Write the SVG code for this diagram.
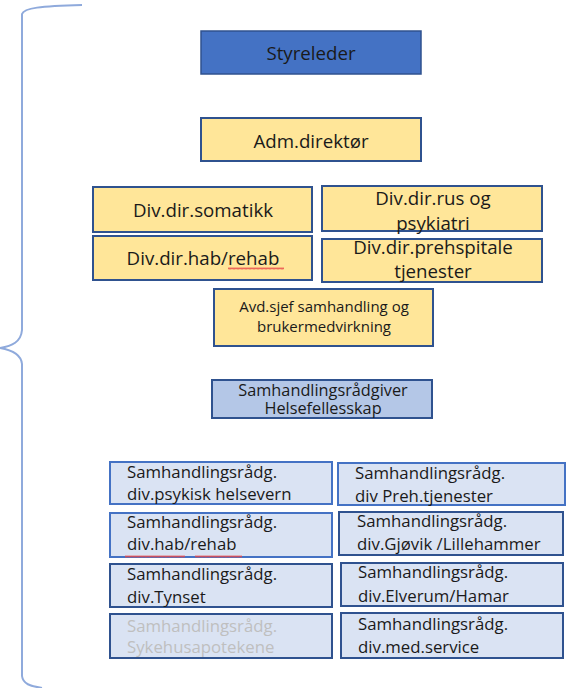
<svg xmlns="http://www.w3.org/2000/svg" width="573" height="688" viewBox="0 0 573 688">
<defs>
<pattern id="sq" x="0" y="0" width="4" height="3" patternUnits="userSpaceOnUse">
<path d="M0,2.5 L1,0.5 L2,2.5 L3,0.5 L4,2.5" fill="none" stroke="#E8484A" stroke-width="0.8"/>
</pattern>
</defs>
<style>
.y{fill:#FFE699;stroke:#2F528F;stroke-width:2}
.b{fill:#4472C4;stroke:#2F528F;stroke-width:1.5}
.m{fill:#B4C7E7;stroke:#2F528F;stroke-width:2}
.l1{fill:#DAE3F3;stroke:#4472C4;stroke-width:2}
.l2{fill:#DAE3F3;stroke:#2F528F;stroke-width:2}
text{font-family:"Open Sans","Liberation Sans",sans-serif;fill:#1A1A1A}
.c{text-anchor:middle}
.t1{font-size:18.7px}
.t2{font-size:15px}
.t4{font-size:16.3px}
.t3{font-size:16.8px}
.g{fill:#BFBFBF}
</style>
<g id="brace">
<path d="M82,5 C40,6 24,8 22,14 L22,330 C21,342 12,346 0,348 C12,350 21,354 22,364 L22,676 C23,684 30,686 42,688" fill="none" stroke="#8FAADC" stroke-width="2"/>
</g>
<g id="connectors"></g>
<g id="styreleder"><rect class="b" x="201" y="31" width="220" height="43"/><text class="c t1" x="311" y="60">Styreleder</text></g>
<g id="adm"><rect class="y" x="201" y="118" width="220" height="43"/><text class="c t1" x="311" y="148">Adm.direktør</text></g>
<g id="somatikk"><rect class="y" x="93" y="187" width="219" height="45"/><text class="c t1" x="203" y="217">Div.dir.somatikk</text></g>
<g id="rus"><rect class="y" x="322" y="186" width="220" height="45"/><text class="c t1" x="433" y="205">Div.dir.rus og</text><text class="c t1" x="433" y="230">psykiatri</text></g>
<g id="habrehab"><rect class="y" x="93" y="236" width="219" height="44"/><text class="c t1" x="203" y="265">Div.dir.hab/rehab</text><rect x="228" y="267" width="56" height="3" fill="url(#sq)"/></g>
<g id="prehospital"><rect class="y" x="322" y="239" width="220" height="43"/><text class="c t1" x="433" y="254">Div.dir.prehspitale</text><text class="c t1" x="433" y="278">tjenester</text></g>
<g id="avdsjef"><rect class="y" x="214" y="289" width="219" height="57"/><text class="c t2" x="324" y="312">Avd.sjef samhandling og</text><text class="c t2" x="324" y="332">brukermedvirkning</text></g>
<g id="helsefellesskap"><rect class="m" x="212" y="380" width="220" height="38"/><text class="c t4" x="323" y="396">Samhandlingsrådgiver</text><text class="c t4" x="323" y="414">Helsefellesskap</text></g>
<g id="psykisk"><rect class="l1" x="110" y="462" width="222" height="42"/><text class="t3" x="127" y="478">Samhandlingsrådg.</text><text class="t3" x="127" y="500">div.psykisk helsevern</text></g>
<g id="preh"><rect class="l1" x="338" y="463" width="227" height="42"/><text class="t3" x="355" y="479">Samhandlingsrådg.</text><text class="t3" x="355" y="502">div Preh.tjenester</text></g>
<g id="hab"><rect class="l1" x="110" y="513" width="222" height="44"/><text class="t3" x="127" y="528">Samhandlingsrådg.</text><text class="t3" x="127" y="550">div.hab/rehab</text><rect x="125" y="555" width="60" height="3" fill="url(#sq)"/><rect x="195" y="555" width="47" height="3" fill="url(#sq)"/></g>
<g id="gjovik"><rect class="l2" x="339" y="512" width="224" height="43"/><text class="t3" x="357" y="527">Samhandlingsrådg.</text><text class="t3" x="357" y="550">div.Gjøvik /Lillehammer</text></g>
<g id="tynset"><rect class="l2" x="110" y="564" width="222" height="43"/><text class="t3" x="127" y="580">Samhandlingsrådg.</text><text class="t3" x="127" y="603">div.Tynset</text></g>
<g id="elverum"><rect class="l2" x="341" y="563" width="222" height="43"/><text class="t3" x="358" y="578">Samhandlingsrådg.</text><text class="t3" x="358" y="602">div.Elverum/Hamar</text></g>
<g id="apotek"><rect class="l2" x="110" y="614" width="222" height="44"/><text class="t3 g" x="127" y="632">Samhandlingsrådg.</text><text class="t3 g" x="127" y="653">Sykehusapotekene</text></g>
<g id="medservice"><rect class="l2" x="341" y="613" width="222" height="45"/><text class="t3" x="358" y="630">Samhandlingsrådg.</text><text class="t3" x="358" y="653">div.med.service</text></g>
</svg>
